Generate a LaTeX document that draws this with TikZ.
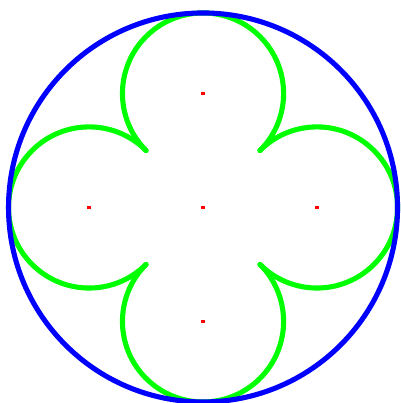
\documentclass[tikz,border=0pt]{standalone}
\usepackage{tikz}
\usetikzlibrary{calc}

\begin{document}
\begin{tikzpicture}[
  rim/.style={draw=blue, line width=1.8pt},
  lobe/.style={draw=green, line width=1.8pt, line cap=round},
  dot/.style={rectangle, fill=red, inner sep=0pt, minimum size=0.4mm}]

  \useasboundingbox (-2.520, -2.427) rectangle (2.457, 2.575);

  \coordinate (c) at (0, 0);
  \coordinate (n) at (0, 1.4142);
  \coordinate (w) at (-1.4142, 0);
  \coordinate (e) at (1.4142, 0);
  \coordinate (s) at (0, -1.4142);

  % four lobes, each a 270 degree arc
  \draw[lobe] ($(n)+(-45:1)$)  arc[start angle=-45,  end angle=225, radius=1];
  \draw[lobe] ($(w)+(45:1)$)   arc[start angle=45,   end angle=315, radius=1];
  \draw[lobe] ($(s)+(135:1)$)  arc[start angle=135,  end angle=405, radius=1];
  \draw[lobe] ($(e)+(-135:1)$) arc[start angle=-135, end angle=135, radius=1];

  \draw[rim] (c) circle[radius=2.4142];

  \node[dot] (cdot) at (c) {};
  \node[dot] (ndot) at (n) {};
  \node[dot] (wdot) at (w) {};
  \node[dot] (edot) at (e) {};
  \node[dot] (sdot) at (s) {};

\end{tikzpicture}
\end{document}
